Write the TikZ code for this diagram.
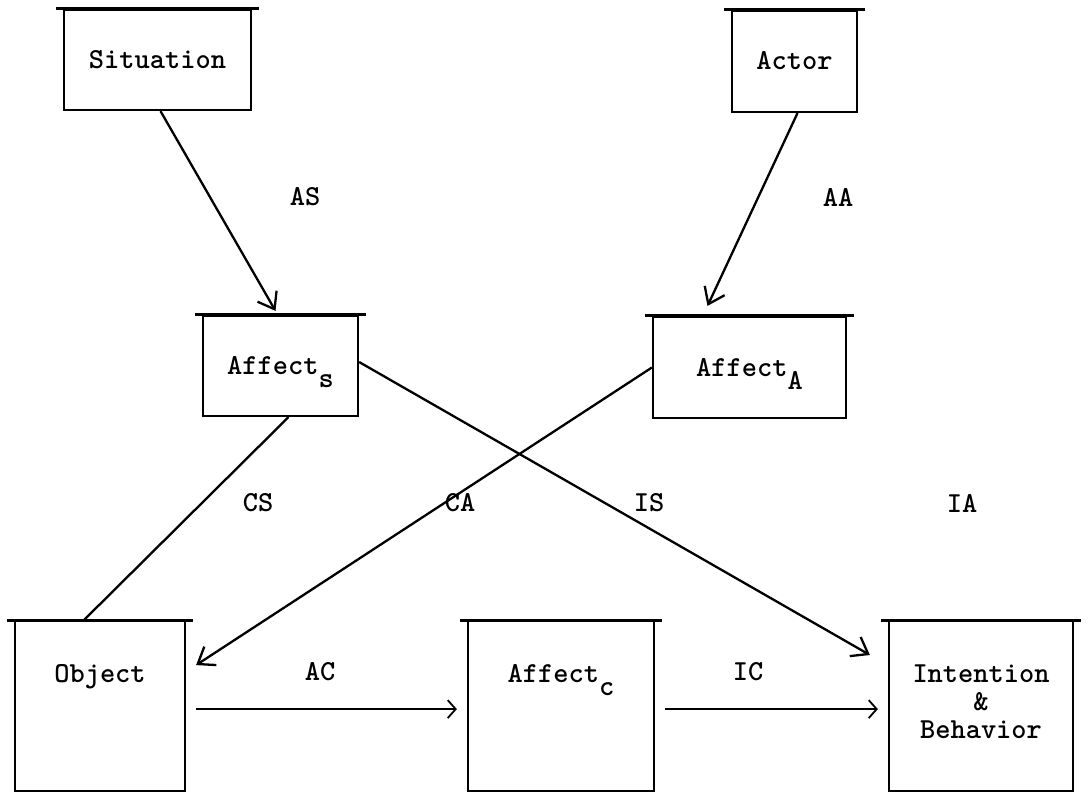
\documentclass[tikz,border=0pt]{standalone}
\usepackage{tikz}
\usetikzlibrary{arrows.meta, positioning}

\begin{document}
\begin{tikzpicture}[x=1pt, y=-1pt,
    every node/.style={font=\fontsize{29}{28}\selectfont\ttfamily\bfseries},
    box/.style={draw, line width=2.2pt, inner sep=0pt, align=center, text height=17pt, text depth=0pt},
    lowbox/.style={box, anchor=north, minimum height=170pt, text height=61pt, text depth=109pt},
    link/.style={line width=2.3pt},
    hand/.style={link, -{Straight Barb[length=15pt, width=22pt, line width=2.3pt]}},
    typed/.style={link, -{Straight Barb[length=8pt, width=18pt, line width=1.8pt]}}]
  \useasboundingbox (0,0) rectangle (1091,794);
  \node[box, minimum width=187pt, minimum height=100pt] (sit) at (157.5,60) {Situation};
  \node[box, minimum width=125pt, minimum height=101pt] (act) at (794.5,61.5) {Actor};
  \node[box, minimum width=155pt, minimum height=100pt] (affs) at (280.5,366) {Affect\raisebox{-13pt}{s}};
  \node[box, minimum width=193pt, minimum height=101pt] (affa) at (749.5,367.5) {Affect\raisebox{-13pt}{A}};
  \node[lowbox, minimum width=170pt] (obj) at (100,620) {Object};
  \node[lowbox, minimum width=186pt] (affc) at (561,620) {Affect\raisebox{-13pt}{c}};
  \node[lowbox, minimum width=184pt, text height=117pt, text depth=53pt] (int) at (981,620) {Intention\\\&\\Behavior};
  \foreach \n in {sit,act,affs,affa,obj,affc,int}
    \draw[line width=3pt] ([xshift=-7pt]\n.north west) -- ([xshift=7pt]\n.north east);

  \draw[hand] ([xshift=3pt]sit.south) -- ([xshift=-5pt,yshift=4pt]affs.north);
  \draw[hand] ([xshift=3pt]act.south) -- ([xshift=-42pt,yshift=10pt]affa.north);
  \draw[link] ([xshift=8pt]affs.south) -- ([xshift=-16pt]obj.north);
  \draw[hand] (affa.west) -- ([xshift=10pt,yshift=41pt]obj.east);
  \draw[hand] ([yshift=4pt]affs.east) -- ([xshift=-18pt,yshift=-35pt]int.north west);
  \draw[typed] ([xshift=10pt,yshift=-3pt]obj.east) -- ([xshift=-10pt,yshift=-3pt]affc.west);
  \draw[typed] ([xshift=10pt,yshift=-3pt]affc.east) -- ([xshift=-10pt,yshift=-3pt]int.west);

  \node (as) at (305,197) {AS};
  \node (aa) at (838,197) {AA};
  \node (cs) at (258,503) {CS};
  \node (ca) at (460,503) {CA};
  \node (is) at (649,503) {IS};
  \node (ia) at (962,503) {IA};
  \node (ac) at (320,672) {AC};
  \node (ic) at (748,672) {IC};
\end{tikzpicture}
\end{document}
